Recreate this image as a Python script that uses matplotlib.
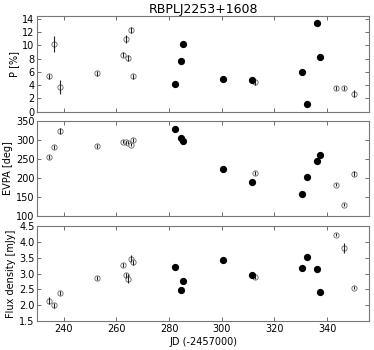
import numpy as np
import matplotlib
matplotlib.use("Agg")
import matplotlib.pyplot as plt

# Open symbols
jd_open = [234.5, 236.5, 238.6, 252.5, 262.4, 263.5, 264.3, 265.6, 266.5, 312.5, 343.4, 346.3, 350.3]
p_open = [5.3, 10.2, 3.7, 5.8, 8.6, 11.0, 8.1, 12.3, 5.3, 4.4, 3.6, 3.5, 2.7]
p_open_err = [0.4, 1.2, 1.1, 0.4, 0.4, 0.6, 0.5, 0.5, 0.4, 0.4, 0.3, 0.3, 0.5]
evpa_open = [254.4, 280.7, 322.8, 284.2, 294.7, 293.0, 292.0, 287.0, 300.0, 213.0, 181.6, 130.0, 211.4]
evpa_open_err = [6, 5, 8, 5, 4, 4, 4, 4, 5, 5, 4, 4, 6]
flux_open = [2.15, 2.0, 2.39, 2.86, 3.26, 2.95, 2.84, 3.47, 3.35, 2.89, 4.22, 3.80, 2.55]
flux_open_err = [0.1, 0.07, 0.05, 0.05, 0.07, 0.08, 0.15, 0.1, 0.07, 0.05, 0.05, 0.15, 0.05]

# Filled symbols
jd_fill = [282.3, 284.4, 285.4, 300.5, 311.4, 330.4, 332.4, 336.3, 337.3]
p_fill = [4.2, 7.7, 10.2, 4.9, 4.7, 6.0, 1.2, 13.4, 8.3]
p_fill_err = [0.3, 0.3, 0.3, 0.3, 0.3, 0.4, 0.3, 0.4, 0.4]
evpa_fill = [329.0, 303.5, 298.0, 223.7, 189.5, 158.0, 203.5, 244.0, 259.6]
evpa_fill_err = [3, 3, 3, 3, 3, 3, 6, 3, 3]
flux_fill = [3.20, 2.49, 2.78, 3.41, 2.95, 3.17, 3.53, 3.15, 2.41]
flux_fill_err = [0.05, 0.05, 0.05, 0.05, 0.05, 0.05, 0.05, 0.05, 0.05]

title = "RBPLJ2253+1608"
xlabel = "JD (-2457000)"
ylabels = ["P [%]", "EVPA [deg]", "Flux density [mJy]"]
xticks = [240, 260, 280, 300, 320, 340]

plt.rcParams['font.family'] = ['DejaVu Sans']
fig = plt.figure(figsize=(3.74, 3.5), dpi=100)
L, W = 0.0997, 0.8877
axes = [fig.add_axes([L, 0.681, W, 0.274]),
        fig.add_axes([L, 0.383, W, 0.272]),
        fig.add_axes([L, 0.082, W, 0.273])]

data = [(p_open, p_open_err, p_fill, p_fill_err, (0, 14.45), [0, 2, 4, 6, 8, 10, 12, 14]),
        (evpa_open, evpa_open_err, evpa_fill, evpa_fill_err, (100, 350), [100, 150, 200, 250, 300, 350]),
        (flux_open, flux_open_err, flux_fill, flux_fill_err, (1.5, 4.5), [1.5, 2.0, 2.5, 3.0, 3.5, 4.0, 4.5])]
ytl = [None, [str(v) for v in [100, 150, 200, 250, 300, 350]],
       ["%.1f" % v for v in [1.5, 2.0, 2.5, 3.0, 3.5, 4.0, 4.5]]]

for i, (ax, (yo, eo, yf, ef, ylim, yt), lab) in enumerate(zip(axes, data, ylabels)):
    ax.plot(jd_open, yo, 'o', mfc='white', mec='#666666', mew=0.6, ms=3.8, zorder=2)
    ax.errorbar(jd_open, yo, yerr=eo, fmt='none', ecolor='#222222',
                elinewidth=0.8, capsize=0, zorder=3)
    ax.errorbar(jd_fill, yf, yerr=ef, fmt='o', mfc='black', mec='black',
                ms=4.2, ecolor='black', elinewidth=0.8, capsize=0, zorder=4)
    ax.set_xlim(230, 356)
    ax.set_ylim(*ylim)
    ax.set_yticks(yt)
    if ytl[i] is not None:
        ax.set_yticklabels(ytl[i])
    ax.set_xticks(xticks)
    ax.tick_params(direction='in', top=True, right=True, labelsize=7, length=3,
                   width=0.6, pad=2, color='#555555')
    for s in ax.spines.values():
        s.set_color('#777777')
        s.set_linewidth(0.8)
    ax.set_ylabel(lab, fontsize=7, labelpad=2)
    if i < 2:
        ax.set_xticklabels([])

axes[0].set_title(title, fontsize=9, pad=2)
axes[2].set_xlabel(xlabel, fontsize=7, labelpad=2)

fig.savefig("out.png", dpi=100)
